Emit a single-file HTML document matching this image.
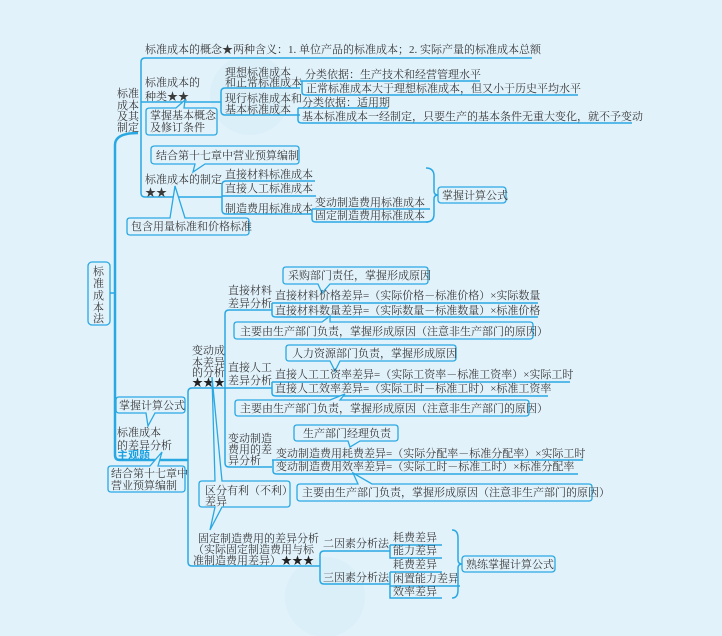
<!DOCTYPE html>
<html><head><meta charset="utf-8"><style>
html,body{margin:0;padding:0;background:#e1f2fb;}
svg{display:block;}
text{font-family:"Liberation Serif","Noto Serif CJK SC",serif;font-size:11px;fill:#3a3a3a;}
.l{fill:none;stroke:#2aa8e2;stroke-width:1.5;}
.b{fill:#e1f2fb;stroke:#2aa8e2;stroke-width:1.3;}
</style></head><body>
<svg width="722" height="636" viewBox="0 0 722 636" xmlns="http://www.w3.org/2000/svg">
<rect width="722" height="636" fill="#e1f2fb"/>
<circle cx="250" cy="95" r="40" fill="#d6ecf7" opacity="0.5"/>
<circle cx="325" cy="597" r="40" fill="#d6ecf7" opacity="0.5"/>

<path class="l" style="stroke-width:2.5" d="M138 133 Q115 133 115 145 L115 455 Q115 460 120 460 L188 460"/>
<path class="l" d="M110 293 L115 293"/>
<rect class="b" x="88" y="262" width="22" height="63" rx="4"/>
<text x="93" y="275">标</text><text x="93" y="287">准</text><text x="93" y="299">成</text><text x="93" y="311">本</text><text x="93" y="322">法</text>

<text x="117" y="97">标准</text><text x="117" y="109">成本</text><text x="117" y="120">及其</text><text x="117" y="131">制定</text>
<path class="l" d="M532 58 L145 58 Q141 58 141 62 L141 193 Q141 197 145 197 L222 197"/>
<text x="145" y="53">标准成本的概念★两种含义：1. 单位产品的标准成本；2. 实际产量的标准成本总额</text>
<text x="145" y="86">标准成本的</text><text x="145" y="100">种类★★</text>
<path class="l" d="M141 102 L221 102"/>
<path class="l" d="M300 88 L225 88 Q221 88 221 92 L221 111 Q221 115 225 115 L300 115"/>
<text x="225" y="76">理想标准成本</text><text x="225" y="86">和正常标准成本</text>
<text x="225" y="102">现行标准成本和</text><text x="225" y="113">基本标准成本</text>
<path class="b" d="M150 108 L176 108 L185 100 L184 108 L214 108 Q217 108 217 111 L217 132 Q217 135 214 135 L149 135 Q146 135 146 132 L146 111 Q146 108 150 108 Z"/>
<text x="150" y="119">掌握基本概念</text><text x="150" y="131">及修订条件</text>

<path class="l" d="M300 81 L480 81"/>
<text x="305" y="78">分类依据：生产技术和经营管理水平</text>
<path class="l" d="M302 81 L302 92 Q302 95 306 95 L578 95"/>
<text x="306" y="92">正常标准成本大于理想标准成本，但又小于历史平均水平</text>
<path class="l" d="M298 108 L388 108"/>
<text x="302" y="106">分类依据：适用期</text>
<path class="l" d="M298 108 L298 120 Q298 123 302 123 L632 123"/>
<text x="302" y="120">基本标准成本一经制定，只要生产的基本条件无重大变化，就不予变动</text>

<path class="b" d="M155 146 L296 146 Q299 146 299 149 L299 161 Q299 164 296 164 L205 164 L193 172 L195 164 L155 164 Q151 164 151 161 L151 149 Q151 146 155 146 Z"/>
<text x="156" y="159">结合第十七章中营业预算编制</text>
<text x="145" y="183">标准成本的制定</text><text x="145" y="196">★★</text>
<path class="l" d="M315 181 L226 181 Q222 181 222 185 L222 210 Q222 214 226 214 L312 214"/>
<path class="l" d="M222 196 L316 196"/>
<text x="225" y="178">直接材料标准成本</text>
<text x="225" y="192">直接人工标准成本</text>
<text x="225" y="212">制造费用标准成本</text>
<path class="l" d="M312 209 L430 209"/>
<path class="l" d="M312 209 L312 219 Q312 222 316 222 L428 222"/>
<text x="315" y="206">变动制造费用标准成本</text>
<text x="315" y="219">固定制造费用标准成本</text>
<path class="l" d="M426 168 Q434 168 434 176 L434 191 Q434 195 438 195 Q434 195 434 199 L434 214 Q434 222 426 222"/>
<rect class="b" x="438" y="187" width="68" height="16" rx="3"/>
<text x="442" y="199">掌握计算公式</text>
<path class="b" d="M130 218 L170 218 L175 186 L185 218 L246 218 Q249 218 249 221 L249 232 Q249 235 246 235 L130 235 Q127 235 127 232 L127 221 Q127 218 130 218 Z"/>
<text x="131" y="230">包含用量标准和价格标准</text>

<path class="b" d="M119 397 L182 397 Q185 397 185 400 L185 410 Q185 413 182 413 L155 413 L148 426 L146 413 L119 413 Q116 413 116 410 L116 400 Q116 397 119 397 Z"/>
<text x="119" y="409">掌握计算公式</text>
<text x="117" y="436">标准成本</text><text x="117" y="449">的差异分析</text>
<text x="117" y="459" style="fill:#1ba0e0;font-weight:bold;font-family:'Liberation Sans','Noto Sans CJK SC',sans-serif">主观题</text>
<path class="b" d="M111 466 L150 466 L162 452 L158 466 L182 466 Q185 466 185 469 L185 489 Q185 492 182 492 L111 492 Q108 492 108 489 L108 469 Q108 466 111 466 Z"/>
<text x="111" y="477">结合第十七章中</text><text x="111" y="489">营业预算编制</text>

<path class="l" d="M225 388 L192 388 Q188 388 188 392 L188 562 Q188 566 192 566 L320 566"/>
<text x="192" y="354">变动成</text><text x="192" y="366">本差异</text><text x="192" y="376">的分析</text><text x="192" y="386" style="fill:#222">★★★</text>
<path class="l" d="M272 310 L229 310 Q225 310 225 314 L225 463 Q225 467 229 467 L272 467"/>
<path class="l" d="M225 388 L272 388"/>

<text x="228" y="294">直接材料</text><text x="228" y="307">差异分析</text>
<path class="b" d="M286 267 L425 267 Q428 267 428 270 L428 281 Q428 284 425 284 L330 284 L322 293 L318 284 L286 284 Q283 284 283 281 L283 270 Q283 267 286 267 Z"/>
<text x="288" y="279">采购部门责任，掌握形成原因</text>
<path class="l" d="M272 303 L538 303"/>
<text x="275" y="299">直接材料价格差异=（实际价格－标准价格）×实际数量</text>
<path class="l" d="M272 303 L272 314 Q272 317 276 317 L538 317"/>
<text x="275" y="314">直接材料数量差异=（实际数量－标准数量）×标准价格</text>
<path class="b" d="M237 322 L322 322 L330 316 L330 322 L530 322 Q533 322 533 325 L533 336 Q533 339 530 339 L237 339 Q234 339 234 336 L234 325 Q234 322 237 322 Z"/>
<text x="240" y="335">主要由生产部门负责，掌握形成原因（注意非生产部门的原因）</text>

<text x="228" y="371">直接人工</text><text x="228" y="384">差异分析</text>
<path class="b" d="M289 345 L453 345 Q456 345 456 348 L456 358 Q456 361 453 361 L340 361 L335 371 L330 361 L289 361 Q286 361 286 358 L286 348 Q286 345 289 345 Z"/>
<text x="292" y="357">人力资源部门负责，掌握形成原因</text>
<path class="l" d="M272 382 L570 382"/>
<text x="275" y="378">直接人工工资率差异=（实际工资率－标准工资率）×实际工时</text>
<path class="l" d="M272 382 L272 393 Q272 396 276 396 L548 396"/>
<text x="275" y="392">直接人工效率差异=（实际工时－标准工时）×标准工资率</text>
<path class="b" d="M238 400 L330 400 L345 394 L340 400 L526 400 Q529 400 529 403 L529 413 Q529 416 526 416 L238 416 Q235 416 235 413 L235 403 Q235 400 238 400 Z"/>
<text x="240" y="412">主要由生产部门负责，掌握形成原因（注意非生产部门的原因）</text>

<text x="228" y="442">变动制造</text><text x="228" y="453">费用的差</text><text x="228" y="464">异分析</text>
<path class="b" d="M297 425 L395 425 Q398 425 398 428 L398 438 Q398 441 395 441 L360 441 L350 447 L348 441 L297 441 Q294 441 294 438 L294 428 Q294 425 297 425 Z"/>
<text x="303" y="437">生产部门经理负责</text>
<path class="l" d="M272 460 L583 460"/>
<text x="276" y="457">变动制造费用耗费差异=（实际分配率－标准分配率）×实际工时</text>
<path class="l" d="M273 460 L273 471 Q273 474 277 474 L578 474"/>
<text x="276" y="470">变动制造费用效率差异=（实际工时－标准工时）×标准分配率</text>
<path class="b" d="M300 484 L358 484 L353 473 L372 484 L589 484 Q592 484 592 487 L592 498 Q592 501 589 501 L300 501 Q297 501 297 498 L297 487 Q297 484 300 484 Z"/>
<text x="302" y="496">主要由生产部门负责，掌握形成原因（注意非生产部门的原因）</text>

<path class="b" d="M202 481 L215 481 L212 377 L222 481 L287 481 Q290 481 290 484 L290 504 Q290 507 287 507 L222 507 L210 530 L215 507 L202 507 Q199 507 199 504 L199 484 Q199 481 202 481 Z"/>
<text x="205" y="494">区分有利（不利）</text><text x="205" y="505">差异</text>

<text x="198" y="542">固定制造费用的差异分析</text>
<text x="193" y="553">（实际固定制造费用与标</text>
<text x="193" y="564">准制造费用差异）<tspan style="fill:#222">★★★</tspan></text>
<path class="l" d="M390 551 L324 551 Q320 551 320 555 L320 580 Q320 584 324 584 L390 584"/>
<text x="323" y="547">二因素分析法</text>
<text x="323" y="581">三因素分析法</text>
<path class="l" d="M390 545 L442 545"/>
<text x="393" y="541">耗费差异</text>
<path class="l" d="M390 545 L390 558 L442 558"/>
<text x="393" y="554">能力差异</text>
<path class="l" d="M390 572 L442 572"/>
<text x="393" y="568">耗费差异</text>
<path class="l" d="M390 572 L390 586 L460 586"/>
<text x="393" y="582">闲置能力差异</text>
<path class="l" d="M390 586 L390 598 L442 598"/>
<text x="393" y="595">效率差异</text>
<path class="l" d="M452 530 Q458 530 458 538 L458 560 Q458 564 462 564 Q458 564 458 568 L458 590 Q458 598 452 598"/>
<rect class="b" x="462" y="556" width="93" height="16" rx="3"/>
<text x="466" y="568">熟练掌握计算公式</text>
</svg>
</body></html>
